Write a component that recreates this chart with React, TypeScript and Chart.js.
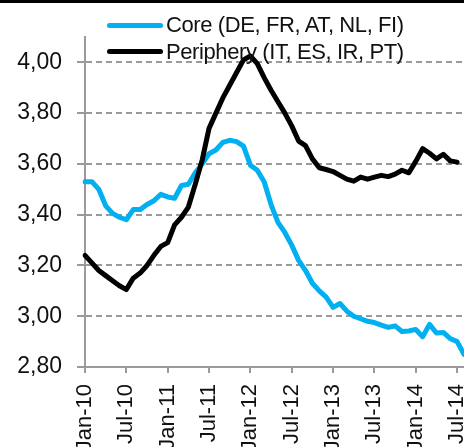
import React, { useEffect, useRef } from "react";
import { Chart, registerables } from "chart.js";

Chart.register(...registerables);

const months: string[] = [
  "Jan-10", "Feb-10", "Mar-10", "Apr-10", "May-10", "Jun-10", "Jul-10", "Aug-10", "Sep-10", "Oct-10", "Nov-10", "Dec-10",
  "Jan-11", "Feb-11", "Mar-11", "Apr-11", "May-11", "Jun-11", "Jul-11", "Aug-11", "Sep-11", "Oct-11", "Nov-11", "Dec-11",
  "Jan-12", "Feb-12", "Mar-12", "Apr-12", "May-12", "Jun-12", "Jul-12", "Aug-12", "Sep-12", "Oct-12", "Nov-12", "Dec-12",
  "Jan-13", "Feb-13", "Mar-13", "Apr-13", "May-13", "Jun-13", "Jul-13", "Aug-13", "Sep-13", "Oct-13", "Nov-13", "Dec-13",
  "Jan-14", "Feb-14", "Mar-14", "Apr-14", "May-14", "Jun-14", "Jul-14", "Aug-14",
];

const seriesNames: string[] = ["Core (DE, FR, AT, NL, FI)", "Periphery (IT, ES, IR, PT)"];
const seriesColors: string[] = ["#00b0f0", "#000000"];

const core: number[] = [
  3.53, 3.53, 3.50, 3.435, 3.405, 3.39, 3.38, 3.42, 3.42, 3.44,
  3.455, 3.48, 3.47, 3.465, 3.515, 3.52, 3.565, 3.60, 3.64, 3.655,
  3.685, 3.693, 3.688, 3.67, 3.595, 3.575, 3.53, 3.44, 3.37, 3.33,
  3.28, 3.22, 3.18, 3.13, 3.10, 3.075, 3.035, 3.05, 3.02, 3.00,
  2.99, 2.98, 2.975, 2.965, 2.956, 2.962, 2.94, 2.942, 2.948, 2.919,
  2.968, 2.934, 2.936, 2.912, 2.90, 2.85,
];

const periphery: (number | null)[] = [
  3.24, 3.21, 3.18, 3.16, 3.14, 3.12, 3.105, 3.15, 3.17, 3.20,
  3.24, 3.275, 3.29, 3.36, 3.39, 3.43, 3.52, 3.615, 3.74, 3.80,
  3.86, 3.91, 3.96, 4.01, 4.025, 3.995, 3.94, 3.89, 3.845, 3.80,
  3.75, 3.69, 3.672, 3.62, 3.585, 3.578, 3.57, 3.555, 3.54, 3.532,
  3.548, 3.54, 3.548, 3.555, 3.55, 3.56, 3.575, 3.565, 3.61, 3.66,
  3.642, 3.62, 3.638, 3.612, 3.607, null,
];

const yMin = 2.8;
const yMax = 4.1;
const yStep = 0.2;
const labelEvery = 6;

const FONT = "'Liberation Sans', Arial, Helvetica, sans-serif";
const AXIS_GREY = "#9a9a9a";

export default function App() {
  const canvasRef = useRef<HTMLCanvasElement | null>(null);

  useEffect(() => {
    const canvas = canvasRef.current;
    if (!canvas) return;
    const chart = new Chart(canvas, {
      type: "line",
      data: {
        labels: months,
        datasets: [
          {
            label: seriesNames[0],
            data: core,
            borderColor: seriesColors[0],
            backgroundColor: seriesColors[0],
            borderWidth: 5,
            pointRadius: 0,
            tension: 0,
            borderJoinStyle: "round",
            borderCapStyle: "round",
            order: 1,
          },
          {
            label: seriesNames[1],
            data: periphery,
            borderColor: seriesColors[1],
            backgroundColor: seriesColors[1],
            borderWidth: 5,
            pointRadius: 0,
            tension: 0,
            borderJoinStyle: "round",
            borderCapStyle: "round",
            order: 0,
          },
        ],
      },
      options: {
        responsive: false,
        animation: false,
        devicePixelRatio: 1,
        layout: { padding: { top: 37, left: 0, right: 0, bottom: 0 } },
        plugins: {
          legend: { display: false },
          tooltip: { enabled: false },
        },
        scales: {
          x: {
            type: "category",
            offset: false,
            grid: {
              drawOnChartArea: false,
              drawTicks: true,
              tickLength: 6,
              lineWidth: 2,
              color: AXIS_GREY,
              tickColor: (ctx: any) => (ctx.index % labelEvery === 0 ? AXIS_GREY : "rgba(0,0,0,0)"),
            },
            border: { display: true, color: AXIS_GREY, width: 2 },
            ticks: {
              autoSkip: false,
              maxRotation: 90,
              minRotation: 90,
              padding: 11,
              color: "#111",
              font: { family: FONT, size: 22 },
              callback: (_v: any, i: number) => (i % labelEvery === 0 ? months[i] : ""),
            },
            afterFit: (scale: any) => {
              scale.height = 80;
              scale.paddingLeft = 0;
              scale.paddingRight = 0;
            },
          },
          y: {
            min: yMin,
            max: yMax,
            grid: {
              color: AXIS_GREY,
              lineWidth: 2,
              drawTicks: true,
              tickLength: 8,
              tickBorderDash: [],
            },
            border: { display: true, color: AXIS_GREY, width: 2, dash: [6, 4] },
            ticks: {
              stepSize: yStep,
              includeBounds: false,
              padding: 15,
              color: "#111",
              font: { family: FONT, size: 23 },
              callback: (v: any) => Number(v).toFixed(2).replace(".", ","),
            },
            afterFit: (scale: any) => {
              scale.width = 85;
              scale.paddingTop = 0;
              scale.paddingBottom = 0;
            },
          },
        },
      },
    } as any);
    return () => chart.destroy();
  }, []);

  const legendRows = [
    { lineTop: 25, textTop: 14 },
    { lineTop: 51.7, textTop: 41 },
  ];

  return (
    <div
      style={{
        position: "fixed",
        left: 0,
        top: 0,
        width: 464,
        height: 447,
        background: "#fff",
        overflow: "hidden",
      }}
    >
      <canvas
        ref={canvasRef}
        width={464}
        height={447}
        style={{ position: "absolute", left: 0, top: 0, width: 464, height: 447 }}
      />
      <div style={{ position: "absolute", left: 0, top: 0, width: 464, height: 3, background: "#000" }} />
      {seriesNames.map((name, i) => (
        <React.Fragment key={name}>
          <div
            style={{
              position: "absolute",
              left: 107,
              width: 56,
              top: legendRows[i].lineTop - 2.5,
              height: 5,
              borderRadius: 3,
              background: seriesColors[i],
            }}
          />
          <div
            style={{
              position: "absolute",
              left: 166,
              top: legendRows[i].textTop,
              fontFamily: FONT,
              fontSize: 22,
              lineHeight: "22px",
              letterSpacing: "-0.4px",
              color: "#111",
              whiteSpace: "nowrap",
            }}
          >
            {name}
          </div>
        </React.Fragment>
      ))}
    </div>
  );
}
